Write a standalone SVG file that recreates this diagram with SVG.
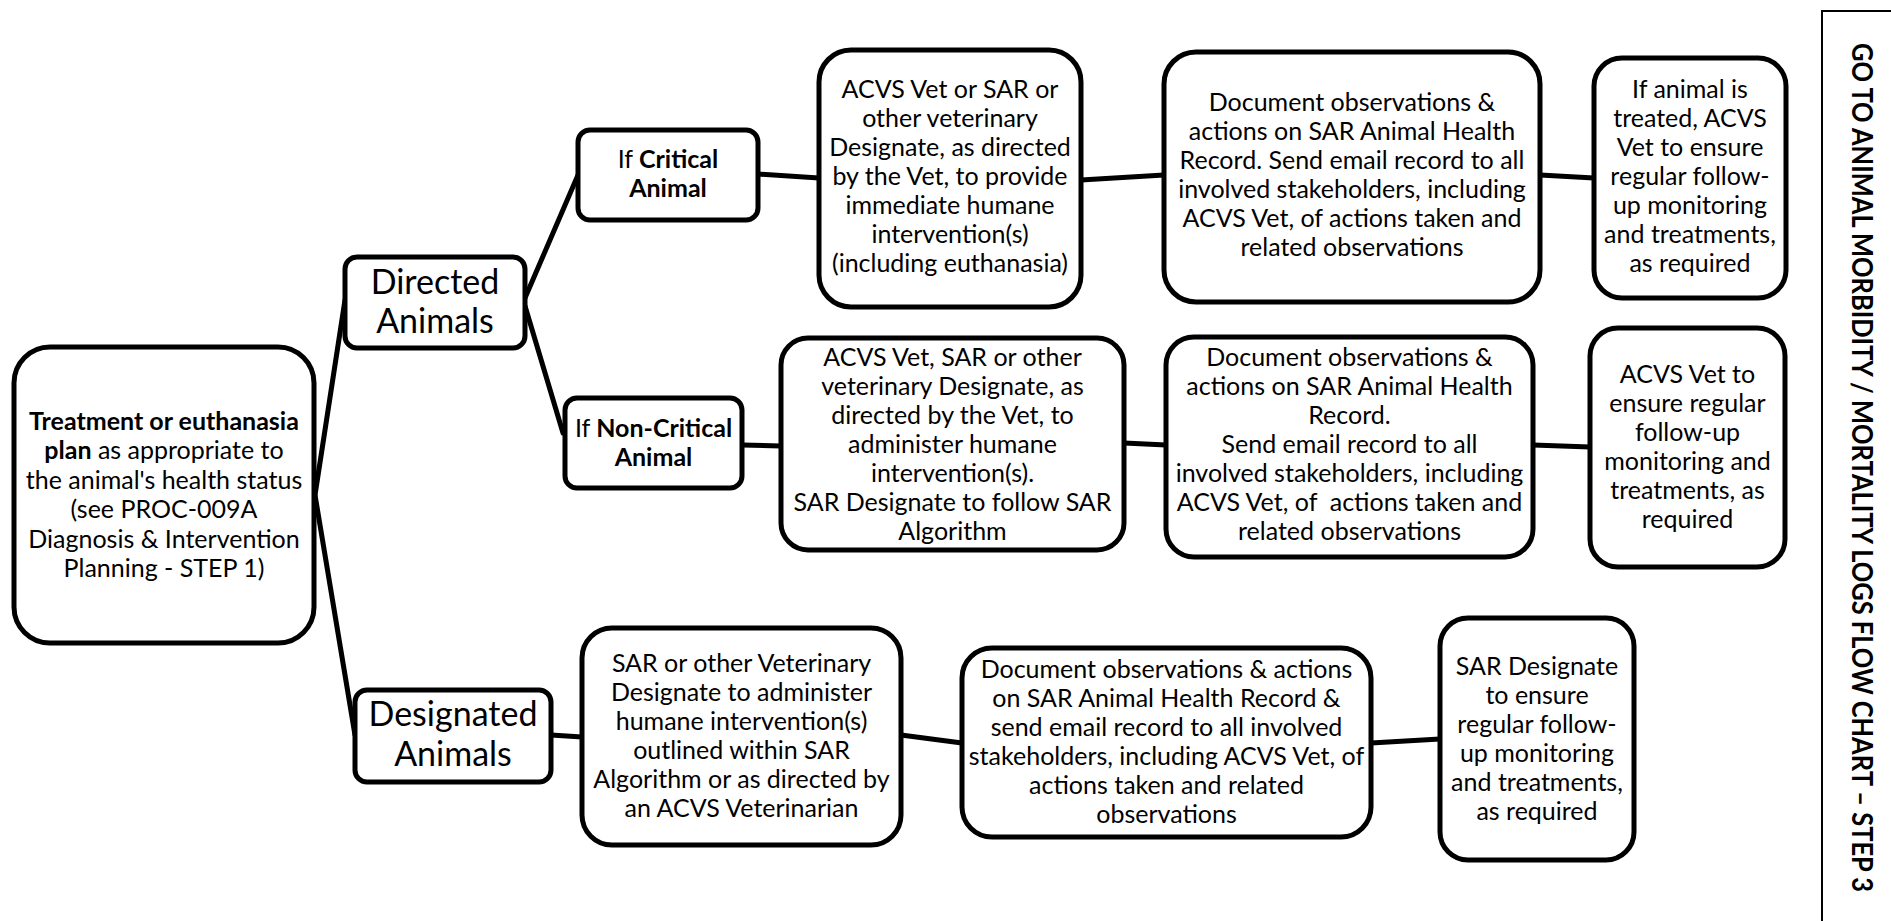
<svg xmlns="http://www.w3.org/2000/svg" width="1891" height="921" viewBox="0 0 1891 921">
<style>
.box{fill:#fff;stroke:#000;stroke-width:5}
.t{font-family:Lato,"Liberation Sans",sans-serif;font-size:25px;fill:#000;text-anchor:middle}
.big{font-size:34px}
.b{font-weight:bold}
.con line{stroke:#000;stroke-width:5;stroke-linecap:round}
.title{font-family:Lato,"Liberation Sans",sans-serif;font-size:28px;font-weight:bold;fill:#000;text-anchor:middle}
</style>
<rect width="1891" height="921" fill="#fff"/>
<g id="connectors" class="con">
<line x1="315" y1="495" x2="345" y2="300"/>
<line x1="315" y1="495" x2="355" y2="735"/>
<line x1="525" y1="298" x2="578" y2="175"/>
<line x1="525" y1="306" x2="563" y2="433"/>
<line x1="758" y1="174" x2="819" y2="178"/>
<line x1="1081" y1="180" x2="1164" y2="175"/>
<line x1="1540" y1="175" x2="1594" y2="178"/>
<line x1="742" y1="445" x2="781" y2="446"/>
<line x1="1124" y1="443" x2="1166" y2="445"/>
<line x1="1533" y1="445" x2="1590" y2="447"/>
<line x1="551" y1="735" x2="582" y2="737"/>
<line x1="901" y1="735" x2="962" y2="743"/>
<line x1="1371" y1="743" x2="1440" y2="739"/>
</g>
<g id="main">
<rect class="box" x="14" y="347" width="300" height="296" rx="36"/>
<text class="t"><tspan x="164" y="430" class="b">Treatment or euthanasia</tspan><tspan x="164" y="459.4"><tspan class="b">plan</tspan> as appropriate to</tspan><tspan x="164" y="488.8">the animal's health status</tspan><tspan x="164" y="518.2">(see PROC-009A</tspan><tspan x="164" y="547.6">Diagnosis &amp; Intervention</tspan><tspan x="164" y="577">Planning - STEP 1)</tspan></text>
</g>
<g id="directed">
<rect class="box" x="345" y="257" width="180" height="91" rx="12"/>
<text class="t big"><tspan x="435" y="294">Directed</tspan><tspan x="435" y="333">Animals</tspan></text>
</g>
<g id="designated">
<rect class="box" x="355" y="690" width="196" height="92" rx="12"/>
<text class="t big"><tspan x="453" y="726">Designated</tspan><tspan x="453" y="766">Animals</tspan></text>
</g>
<g id="critical">
<rect class="box" x="578" y="130" width="180" height="90" rx="12"/>
<text class="t"><tspan x="668" y="168">If <tspan class="b">Critical</tspan></tspan><tspan x="668" y="197" class="b">Animal</tspan></text>
</g>
<g id="noncritical">
<rect class="box" x="565" y="398" width="177" height="90" rx="12"/>
<text class="t"><tspan x="653.5" y="437">If <tspan class="b">Non-Critical</tspan></tspan><tspan x="653.5" y="466" class="b">Animal</tspan></text>
</g>
<g id="acvs-critical">
<rect class="box" x="819" y="50" width="262" height="257" rx="32"/>
<text class="t"><tspan x="950" y="98">ACVS Vet or SAR or</tspan><tspan x="950" y="127">other veterinary</tspan><tspan x="950" y="156">Designate, as directed</tspan><tspan x="950" y="185">by the Vet, to provide</tspan><tspan x="950" y="214">immediate humane</tspan><tspan x="950" y="243">intervention(s)</tspan><tspan x="950" y="272">(including euthanasia)</tspan></text>
</g>
<g id="doc-critical">
<rect class="box" x="1164" y="52" width="376" height="250" rx="32"/>
<text class="t"><tspan x="1352" y="111">Document observations &amp;</tspan><tspan x="1352" y="140">actions on SAR Animal Health</tspan><tspan x="1352" y="169">Record. Send email record to all</tspan><tspan x="1352" y="198">involved stakeholders, including</tspan><tspan x="1352" y="227">ACVS Vet, of actions taken and</tspan><tspan x="1352" y="256">related observations</tspan></text>
</g>
<g id="followup-critical">
<rect class="box" x="1594" y="58" width="192" height="240" rx="28"/>
<text class="t"><tspan x="1690" y="98">If animal is</tspan><tspan x="1690" y="127">treated, ACVS</tspan><tspan x="1690" y="156">Vet to ensure</tspan><tspan x="1690" y="185">regular follow-</tspan><tspan x="1690" y="214">up monitoring</tspan><tspan x="1690" y="243">and treatments,</tspan><tspan x="1690" y="272">as required</tspan></text>
</g>
<g id="acvs-noncritical">
<rect class="box" x="781" y="338" width="343" height="212" rx="27"/>
<text class="t"><tspan x="952.5" y="366">ACVS Vet, SAR or other</tspan><tspan x="952.5" y="395">veterinary Designate, as</tspan><tspan x="952.5" y="424">directed by the Vet, to</tspan><tspan x="952.5" y="453">administer humane</tspan><tspan x="952.5" y="482">intervention(s).</tspan><tspan x="952.5" y="511">SAR Designate to follow SAR</tspan><tspan x="952.5" y="540">Algorithm</tspan></text>
</g>
<g id="doc-noncritical">
<rect class="box" x="1166" y="337" width="367" height="220" rx="28"/>
<text class="t" xml:space="preserve"><tspan x="1349.5" y="366">Document observations &amp;</tspan><tspan x="1349.5" y="395">actions on SAR Animal Health</tspan><tspan x="1349.5" y="424">Record.</tspan><tspan x="1349.5" y="453">Send email record to all</tspan><tspan x="1349.5" y="482">involved stakeholders, including</tspan><tspan x="1349.5" y="511">ACVS Vet, of  actions taken and</tspan><tspan x="1349.5" y="540">related observations</tspan></text>
</g>
<g id="followup-noncritical">
<rect class="box" x="1590" y="328" width="195" height="239" rx="28"/>
<text class="t"><tspan x="1687.5" y="383">ACVS Vet to</tspan><tspan x="1687.5" y="412">ensure regular</tspan><tspan x="1687.5" y="441">follow-up</tspan><tspan x="1687.5" y="470">monitoring and</tspan><tspan x="1687.5" y="499">treatments, as</tspan><tspan x="1687.5" y="528">required</tspan></text>
</g>
<g id="sar-designated">
<rect class="box" x="582" y="628" width="319" height="217" rx="30"/>
<text class="t"><tspan x="741.5" y="672">SAR or other Veterinary</tspan><tspan x="741.5" y="701">Designate to administer</tspan><tspan x="741.5" y="730">humane intervention(s)</tspan><tspan x="741.5" y="759">outlined within SAR</tspan><tspan x="741.5" y="788">Algorithm or as directed by</tspan><tspan x="741.5" y="817">an ACVS Veterinarian</tspan></text>
</g>
<g id="doc-designated">
<rect class="box" x="962" y="648" width="409" height="189" rx="30"/>
<text class="t"><tspan x="1166.5" y="678">Document observations &amp; actions</tspan><tspan x="1166.5" y="707">on SAR Animal Health Record &amp;</tspan><tspan x="1166.5" y="736">send email record to all involved</tspan><tspan x="1166.5" y="765">stakeholders, including ACVS Vet, of</tspan><tspan x="1166.5" y="794">actions taken and related</tspan><tspan x="1166.5" y="823">observations</tspan></text>
</g>
<g id="followup-designated">
<rect class="box" x="1440" y="618" width="194" height="242" rx="28"/>
<text class="t"><tspan x="1537" y="675">SAR Designate</tspan><tspan x="1537" y="704">to ensure</tspan><tspan x="1537" y="733">regular follow-</tspan><tspan x="1537" y="762">up monitoring</tspan><tspan x="1537" y="791">and treatments,</tspan><tspan x="1537" y="820">as required</tspan></text>
</g>
<g id="goto-step3">
<rect x="1822" y="11" width="120" height="960" fill="none" stroke="#000" stroke-width="2"/>
<text class="title" transform="translate(1852,467.5) rotate(90)" x="0" y="0" textLength="849" lengthAdjust="spacingAndGlyphs">GO TO ANIMAL MORBIDITY / MORTALITY LOGS FLOW CHART – STEP 3</text>
</g>
</svg>
